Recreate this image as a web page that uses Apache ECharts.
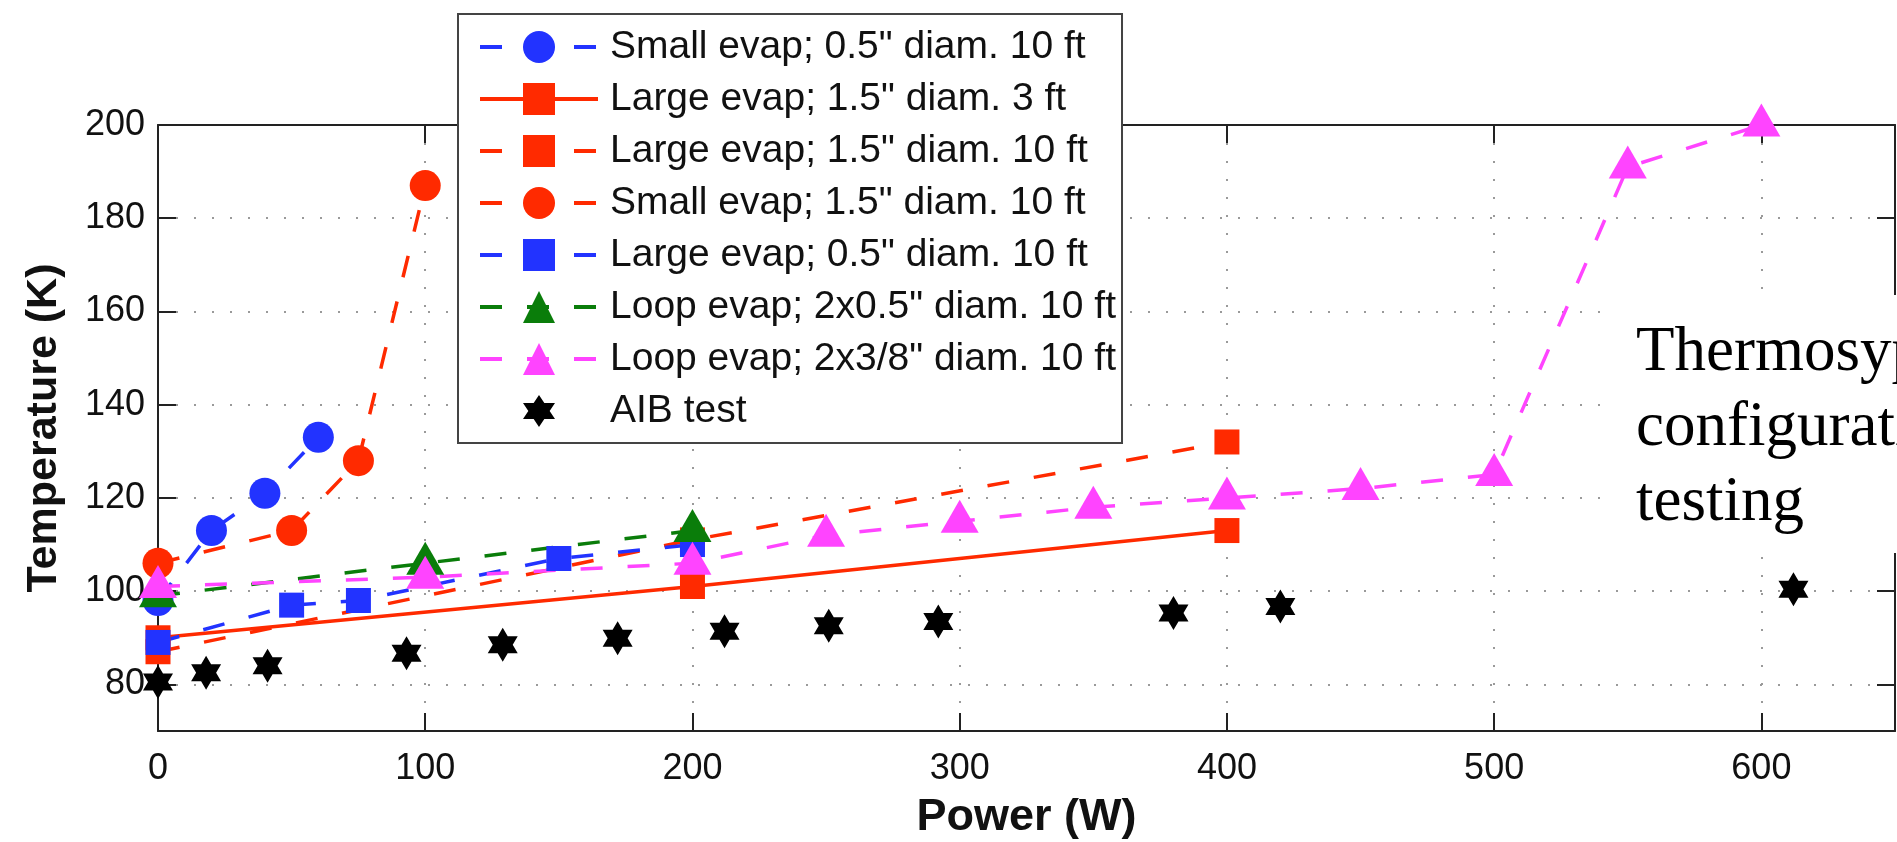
<!DOCTYPE html>
<html>
<head>
<meta charset="utf-8">
<script src="https://cdn.jsdelivr.net/npm/echarts@6.0.0/dist/echarts.min.js"></script>
<style>
  html, body { margin: 0; padding: 0; background: #fff; }
  #chart { width: 1897px; height: 842px; }
</style>
</head>
<body>
<div id="chart"></div>
<script>
// [power W, temperature K]
const smallEvap05 = [[0, 98], [20, 113], [40, 121], [60, 133]];
const largeEvap15Short = [[0, 90], [200, 101], [400, 113]];
const largeEvap15 = [[0, 87], [200, 111], [400, 132]];
const smallEvap15 = [[0, 106], [50, 113], [75, 128], [100, 187]];
const largeEvap05 = [[0, 89], [50, 97], [75, 98], [150, 107], [200, 110]];
const loopEvap05 = [[0, 99], [100, 106], [200, 113]];
const loopEvap38 = [[0, 101], [100, 103], [200, 106], [250, 112], [300, 115], [350, 118],
  [400, 120], [450, 122], [500, 125], [550, 191], [600, 200]];
const aibTest = [[0, 80.5], [18, 82.5], [41, 84], [93, 86.7], [129, 88.5], [172, 89.9],
  [212, 91.4], [251, 92.6], [292, 93.5], [380, 95.3], [420, 96.7], [612, 100.4]];

const xTicks = [0, 100, 200, 300, 400, 500, 600];
const yTicks = [80, 100, 120, 140, 160, 180, 200];

const FONT = '"Liberation Sans", Arial, Helvetica, sans-serif';
const BLUE = '#2233ff', RED = '#ff2a00', GREEN = '#0a7d0a', MAGENTA = '#ff44ff';
const DASH = [22, 25];
const STAR = 'path://M0,-10 L2.887,-5 L8.66,-5 L5.774,0 L8.66,5 L2.887,5 L0,10 L-2.887,5 L-8.66,5 L-5.774,0 L-8.66,-5 L-2.887,-5 Z';

function lineSeries(name, data, color, symbol, size, dashed, offset) {
  return {
    name,
    type: 'line',
    data,
    symbol,
    symbolSize: size,
    symbolOffset: offset || [0, 0],
    itemStyle: { color },
    lineStyle: { color, width: 3.5, type: dashed ? DASH : 'solid' },
    emphasis: { disabled: true },
  };
}

const axisLine = { show: true, onZero: false, lineStyle: { color: '#222', width: 2 } };
const tickStyle = { color: '#222', width: 2 };
const gridLine = { show: true, lineStyle: { color: '#9a9a9a', width: 2, type: [2, 16] } };

const chart = echarts.init(document.getElementById('chart'), null, { renderer: 'canvas' });
chart.setOption({
  animation: false,
  backgroundColor: '#fff',
  grid: { left: 158, right: 2, top: 125, bottom: 111, containLabel: false, outerBoundsMode: 'none' },
  legend: {
    left: 458,
    top: 14,
    orient: 'vertical',
    backgroundColor: '#fff',
    borderColor: '#444',
    borderWidth: 2,
    borderRadius: 0,
    padding: [13, 6, 12, 20],
    itemWidth: 118,
    itemHeight: 40,
    itemGap: 12,
    selectedMode: false,
    lineStyle: { width: 4 },
    textStyle: { fontFamily: FONT, fontSize: 39, color: '#111', lineHeight: 40, padding: [0, 0, 0, 7] },
  },
  xAxis: [
    {
      type: 'value', min: 0, max: 650, position: 'bottom',
      axisLine,
      axisTick: { show: true, inside: true, length: 18, customValues: xTicks, lineStyle: tickStyle },
      axisLabel: { customValues: xTicks, margin: 20, fontFamily: FONT, fontSize: 36, color: '#111' },
      splitLine: gridLine,
      name: 'Power (W)', nameLocation: 'middle', nameGap: 64,
      nameTextStyle: { fontFamily: FONT, fontSize: 45, fontWeight: 'bold', color: '#111' },
    },
    {
      type: 'value', min: 0, max: 650, position: 'top',
      axisLine,
      axisTick: { show: true, inside: true, length: 18, customValues: xTicks, lineStyle: tickStyle },
      axisLabel: { show: false },
      splitLine: { show: false },
    },
  ],
  yAxis: [
    {
      type: 'value', min: 70, max: 200, position: 'left',
      axisLine,
      axisTick: { show: true, inside: true, length: 18, customValues: yTicks, lineStyle: tickStyle },
      axisLabel: { customValues: yTicks, margin: 13, fontFamily: FONT, fontSize: 36, color: '#111' },
      splitLine: gridLine,
      name: 'Temperature (K)', nameLocation: 'middle', nameGap: 92, nameRotate: 90,
      nameTextStyle: { fontFamily: FONT, fontSize: 43, fontWeight: 'bold', color: '#111' },
    },
    {
      type: 'value', min: 70, max: 200, position: 'right',
      axisLine,
      axisTick: { show: true, inside: true, length: 18, customValues: yTicks, lineStyle: tickStyle },
      axisLabel: { show: false },
      splitLine: { show: false },
    },
  ],
  series: [
    lineSeries('Small evap; 0.5" diam. 10 ft', smallEvap05, BLUE, 'circle', 31, true),
    lineSeries('Large evap; 1.5" diam. 3 ft', largeEvap15Short, RED, 'rect', 25, false),
    lineSeries('Large evap; 1.5" diam. 10 ft', largeEvap15, RED, 'rect', 25, true),
    lineSeries('Small evap; 1.5" diam. 10 ft', smallEvap15, RED, 'circle', 31, true),
    lineSeries('Large evap; 0.5" diam. 10 ft', largeEvap05, BLUE, 'rect', 25, true),
    lineSeries('Loop evap; 2x0.5" diam. 10 ft', loopEvap05, GREEN, 'triangle', [38, 33], true, [0, -5]),
    lineSeries('Loop evap; 2x3/8" diam. 10 ft', loopEvap38, MAGENTA, 'triangle', [38, 33], true, [0, -5]),
    {
      name: 'AIB test',
      type: 'line',
      data: aibTest,
      symbol: STAR,
      symbolSize: [30, 34],
      itemStyle: { color: '#000' },
      lineStyle: { opacity: 0, width: 0 },
      emphasis: { disabled: true },
    },
  ],
  graphic: [
    {
      type: 'rect', z: 100,
      shape: { x: 1611, y: 295, width: 300, height: 258 },
      style: { fill: '#fff' },
    },
    {
      type: 'text', z: 101, x: 1636, y: 316,
      style: {
        text: 'Thermosyphon\nconfiguration\ntesting',
        font: '63px "Liberation Serif", "Times New Roman", serif',
        lineHeight: 75,
        fill: '#000',
      },
    },
  ],
});
</script>
</body>
</html>
